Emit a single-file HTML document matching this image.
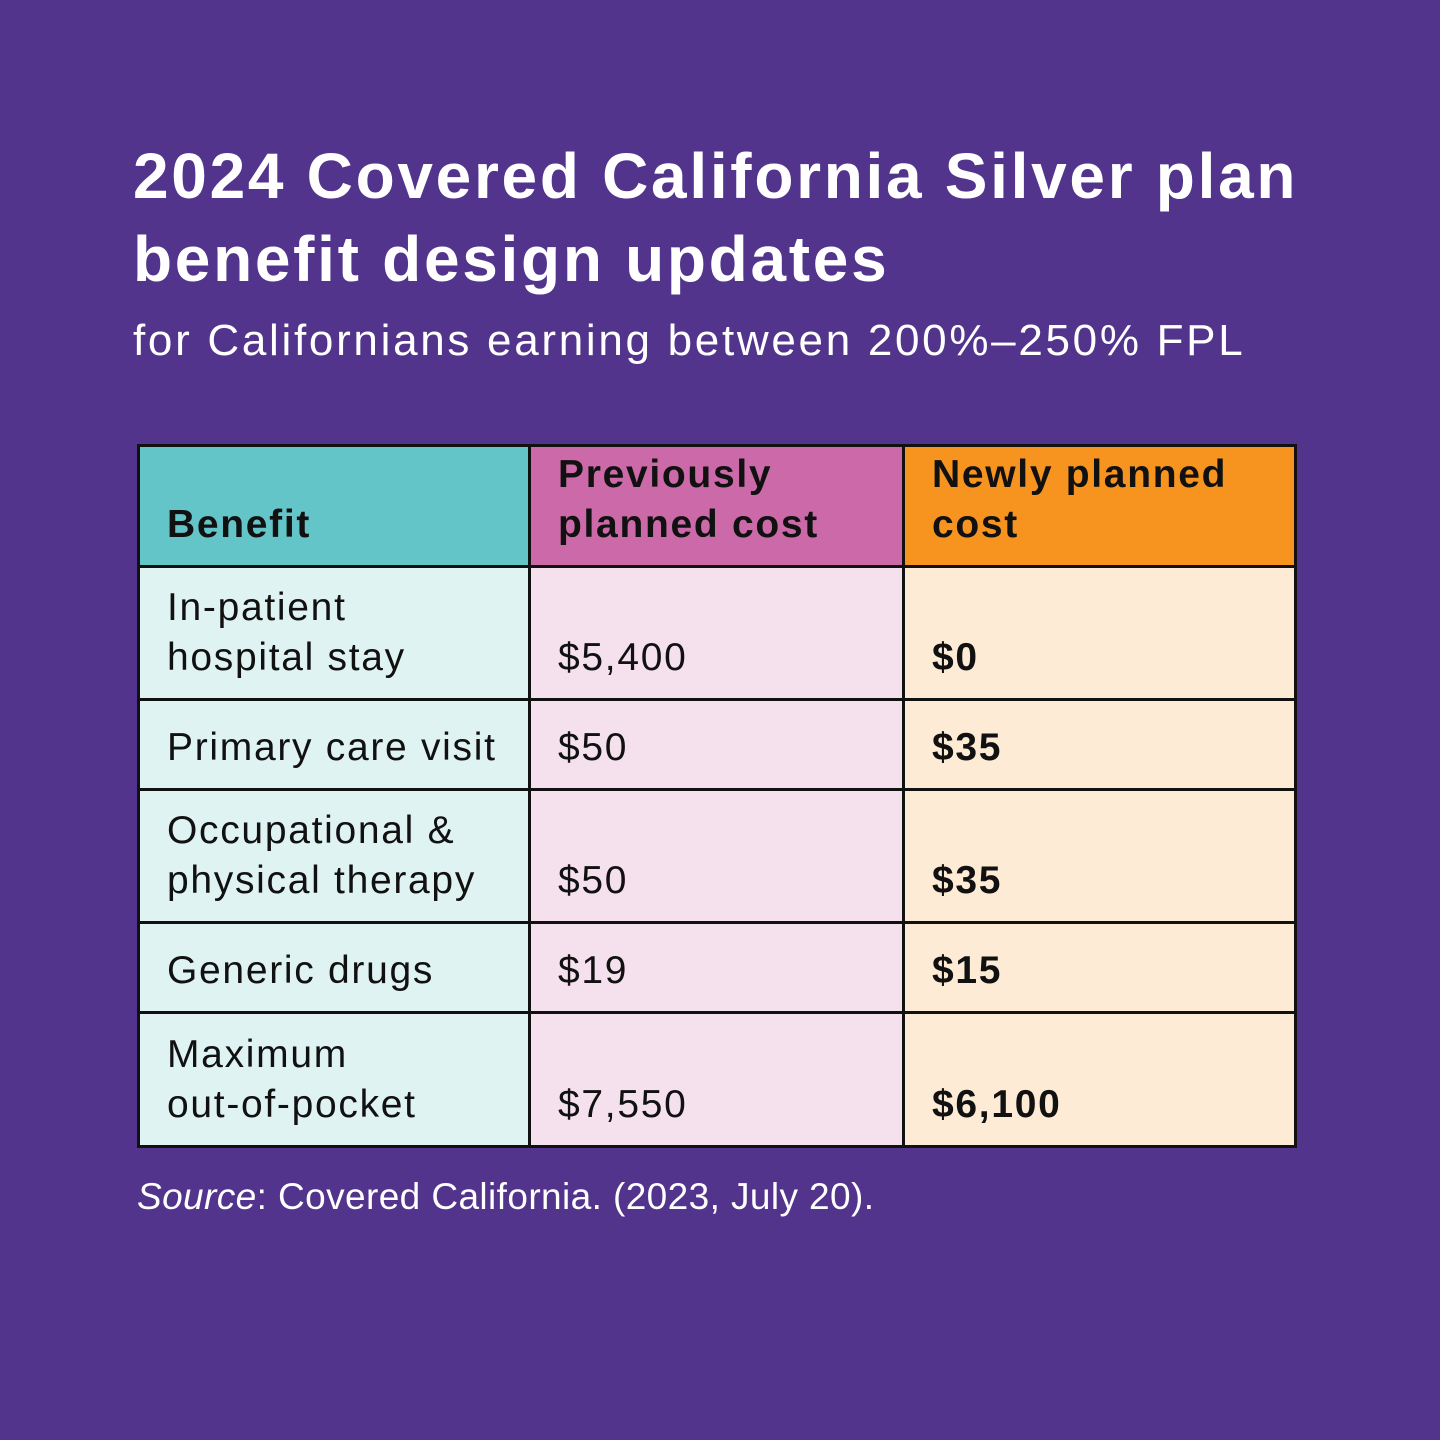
<!DOCTYPE html>
<html><head><meta charset="utf-8"><style>
html,body{margin:0;padding:0}
body{width:1440px;height:1440px;background:#52348c;position:relative;overflow:hidden;font-family:"Liberation Sans",sans-serif}
.t{position:absolute;left:133px;color:#fff;font-weight:bold;font-size:64px;line-height:83px;top:135px;letter-spacing:2.7px}
.s{position:absolute;left:133px;top:316px;color:#fff;font-size:44px;letter-spacing:2.7px}
table{position:absolute;left:137px;top:444px;border-collapse:collapse;font-size:39px;color:#111;letter-spacing:1.7px}
td{border:3px solid #111;padding:0 0 15px 27px;vertical-align:bottom;line-height:50px;box-sizing:border-box}
.h td{font-weight:bold}
.c1{width:391px;background:#e0f3f3}.c2{width:374px;background:#f5e1ee}.c3{width:392px;background:#fdebd5;font-weight:bold}
.h .c1{background:#63c5c8}.h .c2{background:#cc6aa9}.h .c3{background:#f6941f}
.src{position:absolute;left:137px;top:1176px;color:#fff;font-size:37px;letter-spacing:0.4px}
</style></head><body>
<div class="t">2024 Covered California Silver plan<br>benefit design updates</div>
<div class="s">for Californians earning between 200%–250% FPL</div>
<table>
<tr class="h" style="height:121px"><td class="c1">Benefit</td><td class="c2">Previously<br>planned cost</td><td class="c3">Newly planned<br>cost</td></tr>
<tr style="height:133px"><td class="c1">In-patient<br>hospital stay</td><td class="c2">$5,400</td><td class="c3">$0</td></tr>
<tr style="height:90px"><td class="c1">Primary care visit</td><td class="c2">$50</td><td class="c3">$35</td></tr>
<tr style="height:133px"><td class="c1">Occupational &amp;<br>physical therapy</td><td class="c2">$50</td><td class="c3">$35</td></tr>
<tr style="height:90px"><td class="c1">Generic drugs</td><td class="c2">$19</td><td class="c3">$15</td></tr>
<tr style="height:134px"><td class="c1">Maximum<br>out-of-pocket</td><td class="c2">$7,550</td><td class="c3">$6,100</td></tr>
</table>
<div class="src"><i>Source</i>: Covered California. (2023, July 20).</div>
</body></html>
